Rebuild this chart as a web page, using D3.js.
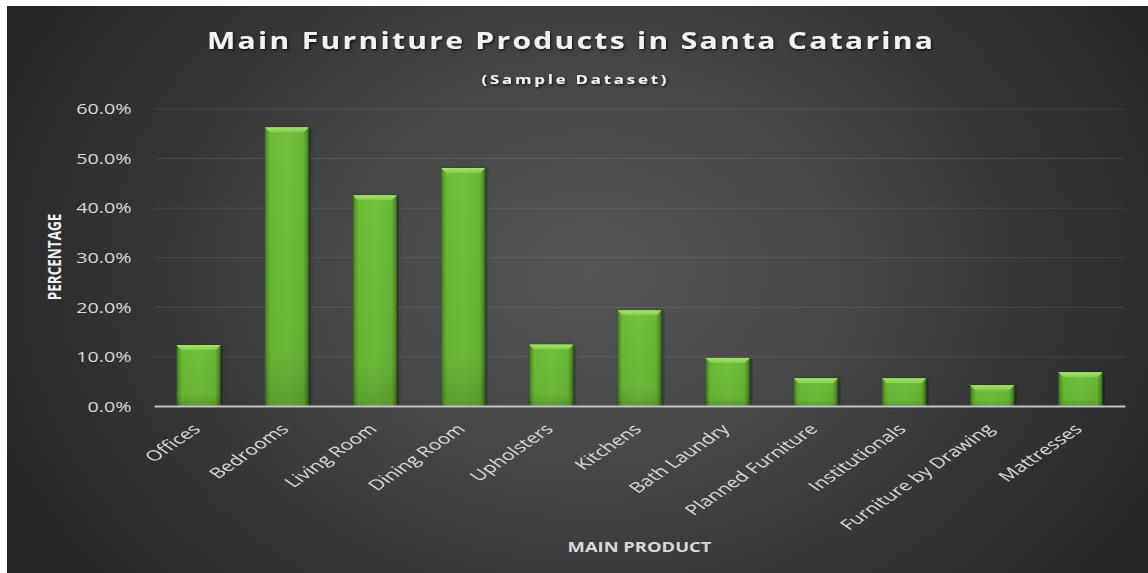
<!DOCTYPE html>
<html>
<head>
<meta charset="utf-8">
<script src="https://cdn.jsdelivr.net/npm/d3@7"></script>
<style>
  html, body { margin: 0; padding: 0; background: #ffffff; overflow: hidden; }
  svg { display: block; }
</style>
</head>
<body>
<svg id="chart" width="1148" height="573"></svg>
<script>
// Product categories and their share of companies (percent)
const categories = [
  "Offices", "Bedrooms", "Living Room", "Dining Room", "Upholsters", "Kitchens",
  "Bath Laundry", "Planned Furniture", "Institutionals", "Furniture by Drawing", "Mattresses"
];
const shares = [12.3, 56.2, 42.5, 48.0, 12.4, 19.3, 9.7, 5.6, 5.6, 4.2, 6.8];
const yTicks = [0, 10, 20, 30, 40, 50, 60];

const titleText = "Main Furniture Products in Santa Catarina";
const subtitleText = "(Sample Dataset)";
const xAxisTitle = "MAIN PRODUCT";
const yAxisTitle = "PERCENTAGE";

const W = 1148, H = 573;
const SX = 1.36;            // horizontal text widening
const FONT = "'Open Sans', 'DejaVu Sans', sans-serif";
const plot = { left: 154.5, right: 1124.5, top: 108.5, bottom: 406 };

const svg = d3.select("#chart");
const defs = svg.append("defs");

// dark radial backdrop
const bg = defs.append("radialGradient")
  .attr("id", "bgGrad")
  .attr("gradientUnits", "userSpaceOnUse")
  .attr("cx", 590).attr("cy", 270).attr("r", 640)
  .attr("gradientTransform", "translate(590,270) scale(1,0.78) translate(-590,-270)");
[[0, "#555555"], [0.35, "#494949"], [0.7, "#353535"], [1, "#262626"]]
  .forEach(([o, c]) => bg.append("stop").attr("offset", o).attr("stop-color", c));

// bar body: darker edges, bright centre
const barGrad = defs.append("linearGradient")
  .attr("id", "barGrad").attr("x1", 0).attr("x2", 1).attr("y1", 0).attr("y2", 0);
[[0, "#3a721a"], [0.06, "#5aa32c"], [0.13, "#6cbc37"], [0.5, "#70c13b"], [0.87, "#6ab936"], [0.94, "#559a2a"], [1, "#356b18"]]
  .forEach(([o, c]) => barGrad.append("stop").attr("offset", o).attr("stop-color", c));

const barShade = defs.append("linearGradient")
  .attr("id", "barShade").attr("x1", 0).attr("x2", 0).attr("y1", 0).attr("y2", 1);
[[0, "#000", 0], [0.8, "#000", 0.05], [1, "#000", 0.18]]
  .forEach(([o, c, a]) => barShade.append("stop").attr("offset", o).attr("stop-color", c).attr("stop-opacity", a));

const bevelGrad = defs.append("linearGradient")
  .attr("id", "bevelGrad").attr("x1", 0).attr("x2", 0).attr("y1", 0).attr("y2", 1);
[[0, "#a9e274"], [1, "#80cc49"]]
  .forEach(([o, c]) => bevelGrad.append("stop").attr("offset", o).attr("stop-color", c));

const shadow = defs.append("filter").attr("id", "barShadow")
  .attr("x", "-20%").attr("y", "-10%").attr("width", "140%").attr("height", "120%");
shadow.append("feDropShadow").attr("dx", 1.2).attr("dy", 0.5).attr("stdDeviation", 1.4)
  .attr("flood-color", "#000").attr("flood-opacity", 0.55);

const textShadow = defs.append("filter").attr("id", "textShadow")
  .attr("x", "-5%").attr("y", "-30%").attr("width", "110%").attr("height", "160%");
textShadow.append("feDropShadow").attr("dx", 1).attr("dy", 1.5).attr("stdDeviation", 1.2)
  .attr("flood-color", "#000").attr("flood-opacity", 0.7);

// chart area
svg.append("rect")
  .attr("x", 7).attr("y", 6).attr("width", W - 7).attr("height", H - 6)
  .attr("fill", "url(#bgGrad)");

// scales
const x = d3.scaleBand()
  .domain(categories)
  .range([plot.left, plot.right])
  .paddingInner(0.5)
  .paddingOuter(0.25);

const y = d3.scaleLinear()
  .domain([0, 60])
  .range([plot.bottom, plot.top]);

// horizontal gridlines
const grid = svg.append("g")
  .attr("transform", `translate(${plot.left},0)`)
  .call(d3.axisLeft(y).tickValues(yTicks.slice(1)).tickSize(-(plot.right - plot.left)).tickFormat(""));
grid.select(".domain").remove();
grid.selectAll(".tick line")
  .attr("stroke", "#ffffff").attr("stroke-opacity", 0.1).attr("stroke-width", 1);

// y axis tick labels
const yAxis = svg.append("g")
  .attr("transform", `translate(${plot.left},0)`)
  .call(d3.axisLeft(y).tickValues(yTicks).tickSize(0).tickFormat(d => d.toFixed(1) + "%"));
yAxis.select(".domain").remove();
yAxis.selectAll(".tick text")
  .attr("x", 0).attr("dy", "0.36em")
  .attr("transform", `translate(-23,0) scale(${SX},1)`)
  .attr("text-anchor", "end")
  .style("font-family", FONT).style("font-size", "14.5px")
  .attr("fill", "#d9d9d9");

// bars
const bars = svg.append("g").selectAll("g.bar")
  .data(categories.map((c, i) => ({ c, v: shares[i] })))
  .join("g").attr("class", "bar");

const bw = x.bandwidth();
const bev = 5;

bars.append("rect")
  .attr("x", d => x(d.c)).attr("y", d => y(d.v))
  .attr("width", bw).attr("height", d => y(0) - y(d.v))
  .attr("fill", "url(#barGrad)")
  .attr("filter", "url(#barShadow)");

bars.append("rect")
  .attr("x", d => x(d.c)).attr("y", d => y(d.v))
  .attr("width", bw).attr("height", d => y(0) - y(d.v))
  .attr("fill", "url(#barShade)");

bars.append("path")
  .attr("d", d => {
    const x0 = x(d.c), x1 = x0 + bw, t = y(d.v);
    return `M${x0},${t}L${x1},${t}L${x1 - bev},${t + bev}L${x0 + bev},${t + bev}Z`;
  })
  .attr("fill", "url(#bevelGrad)");

// category axis
const xAxis = svg.append("g")
  .attr("transform", `translate(0,${plot.bottom})`)
  .call(d3.axisBottom(x).tickSize(0));
xAxis.select(".domain")
  .attr("d", `M${plot.left},0.5H${plot.right + 1}`)
  .attr("stroke", "#c4c4c4").attr("stroke-width", 2);
xAxis.selectAll(".tick text")
  .attr("x", 0).attr("y", 0).attr("dy", 0)
  .attr("text-anchor", "end")
  .attr("transform", `translate(3,24) scale(1.45,1) rotate(-45)`)
  .style("font-family", FONT).style("font-size", "14.5px")
  .attr("fill", "#d9d9d9");

// titles
svg.append("text")
  .attr("transform", `translate(570,49) scale(1.25,1)`)
  .attr("text-anchor", "middle")
  .attr("textLength", 726 / 1.25).attr("lengthAdjust", "spacing")
  .style("font-family", FONT).style("font-weight", 700).style("font-size", "24px")
  .attr("fill", "#f2f2f2")
  .attr("filter", "url(#textShadow)")
  .text(titleText);

svg.append("text")
  .attr("transform", `translate(574,84) scale(1.3,1)`)
  .attr("text-anchor", "middle")
  .attr("textLength", 185 / 1.3).attr("lengthAdjust", "spacing")
  .style("font-family", FONT).style("font-weight", 700).style("font-size", "13px")
  .attr("fill", "#f2f2f2")
  .attr("filter", "url(#textShadow)")
  .text(subtitleText);

svg.append("text")
  .attr("transform", `translate(${(plot.left + plot.right) / 2},552) scale(${SX},1)`)
  .attr("text-anchor", "middle")
  .style("font-family", FONT).style("font-weight", 700).style("font-size", "13.5px")
  .attr("fill", "#d9d9d9")
  .text(xAxisTitle);

svg.append("text")
  .attr("transform", `translate(61,257) scale(${SX},1) rotate(-90)`)
  .attr("text-anchor", "middle")
  .style("font-family", FONT).style("font-weight", 700).style("font-size", "13.5px")
  .attr("fill", "#f2f2f2")
  .text(yAxisTitle);
</script>
</body>
</html>
